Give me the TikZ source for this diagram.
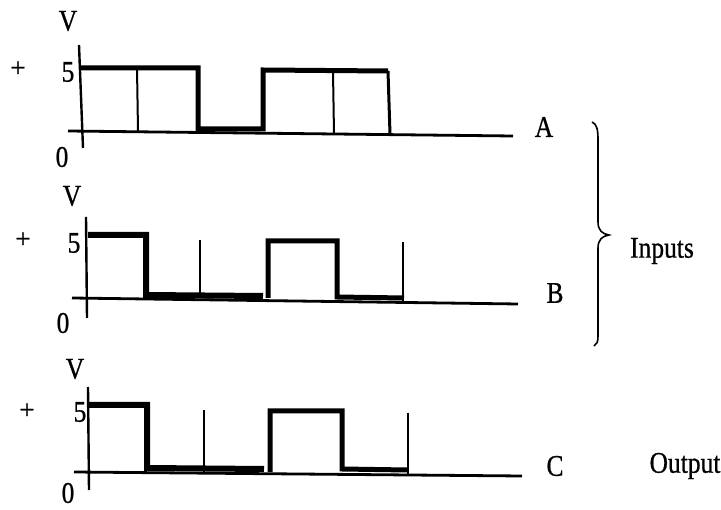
\documentclass[tikz,border=0pt]{standalone}
\usepackage{fontspec}
\setmainfont{Liberation Serif}
\newfontfamily\scanfont[FakeBold=0.8]{Liberation Serif}
\begin{document}
\begin{tikzpicture}[x=1pt,y=-1pt,
  lab/.style={inner sep=0pt,font=\scanfont\fontsize{30}{30}\selectfont},
  small/.style={inner sep=0pt,font=\scanfont\fontsize{27}{27}\selectfont},
  sig/.style={line width=5pt,line join=miter,line cap=butt},
  thinv/.style={line width=2pt},
  base/.style={line width=2.8pt},
  axis/.style={line width=2.4pt}]
\useasboundingbox (0,0) rectangle (721,510);
% ---------- Panel A ----------
\node[lab] (VA) at (68,21) {\scalebox{0.85}[1]{V}};
\node[small] (pA) at (18,69) {+};
\node[lab] (fA) at (68,72) {\scalebox{0.85}[1]{5}};
\node[lab] (zA) at (62,157) {\scalebox{0.85}[1]{0}};
\node[lab] (A) at (544,127) {\scalebox{0.85}[1]{A}};
\draw[axis] (79,45) -- (83,148);
\draw[base] (68,131) -- (513,136);
\draw[sig] (80,68) -- (198,68) -- (198,129) -- (263,129) -- (263,70) -- (388,71);
\draw[line width=3pt] (388,71) -- (390,134);
\draw[thinv] (137,68) -- (138,131);
\draw[thinv] (333,71) -- (334,134);
% ---------- Panel B ----------
\node[lab] (VB) at (72,196) {\scalebox{0.85}[1]{V}};
\node[small] (pB) at (23,240) {+};
\node[lab] (fB) at (74,243) {\scalebox{0.85}[1]{5}};
\node[lab] (zB) at (63,323) {\scalebox{0.85}[1]{0}};
\node[lab] (B) at (555,293) {\scalebox{0.85}[1]{B}};
\draw[axis] (86,217) -- (87,318);
\draw[base] (72,298) -- (518,304);
\draw[sig,line width=6pt] (88,235) -- (146,235) -- (146,295) -- (263,296);
\draw[sig] (268,298) -- (268,241) -- (337,241) -- (337,297) -- (404,298);
\draw[thinv] (200,240) -- (200,298);
\draw[thinv] (403,242) -- (403,302);
% ---------- Panel C ----------
\node[lab] (VC) at (75,369) {\scalebox{0.85}[1]{V}};
\node[small] (pC) at (27,411) {+};
\node[lab] (fC) at (80,412) {\scalebox{0.85}[1]{5}};
\node[lab] (zC) at (68,493) {\scalebox{0.85}[1]{0}};
\node[lab] (C) at (555,466) {\scalebox{0.85}[1]{C}};
\node[lab] (out) at (685,466) {\scalebox{0.85}[1]{Output}};
\draw[axis] (88,387) -- (89,490);
\draw[base] (74,472) -- (522,476);
\draw[sig,line width=6pt] (88,405) -- (147,405) -- (147,468) -- (264,469);
\draw[sig] (270,472) -- (270,411) -- (342,411) -- (342,469) -- (407,470);
\draw[thinv] (204,410) -- (204,472);
\draw[thinv] (408,413) -- (408,475);
% ---------- Brace ----------
\node[lab] (inp) at (662,251) {\scalebox{0.85}[1]{Inputs}};
\draw[line width=1.6pt] (592,122) .. controls (597,124) and (598,130) .. (598,140)
  -- (598,222) .. controls (598,230) and (602,234) .. (609,235)
  .. controls (602,236) and (598,240) .. (598,248)
  -- (598,336) .. controls (598,342) and (597,344) .. (594,346);
\end{tikzpicture}
\end{document}
